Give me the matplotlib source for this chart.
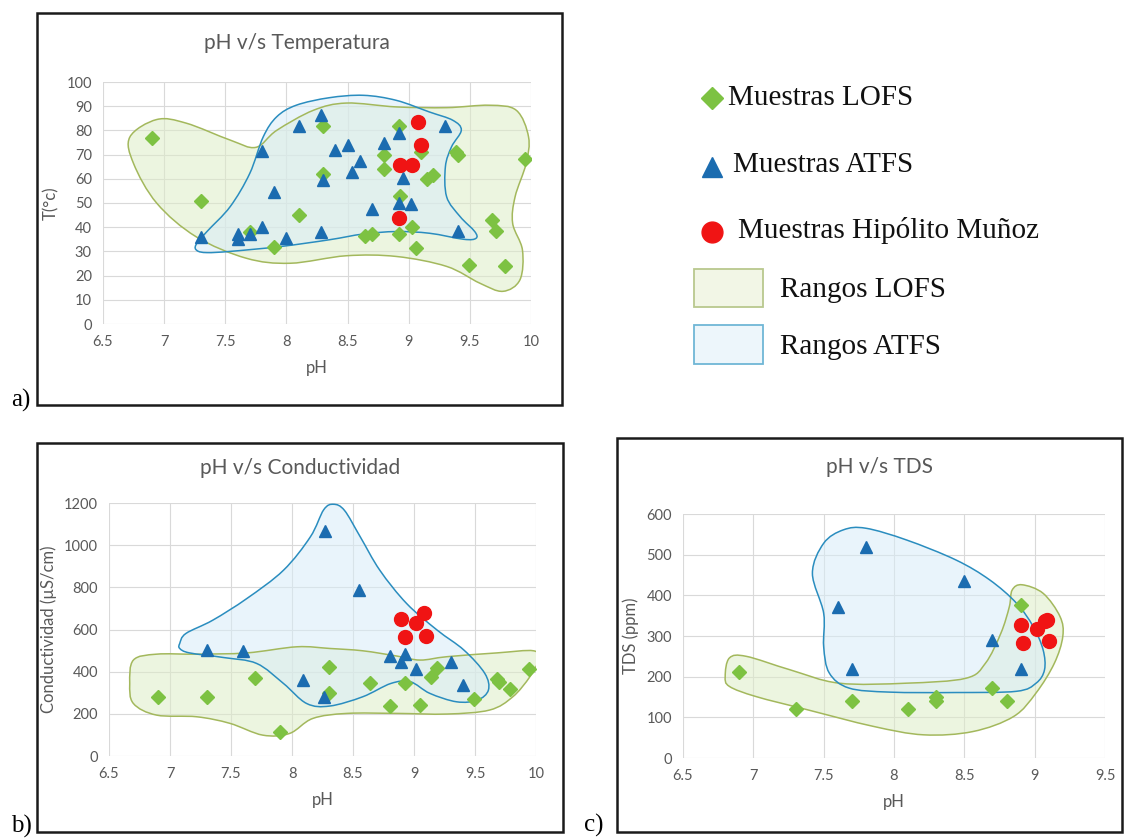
import matplotlib
matplotlib.use("Agg")
import matplotlib.pyplot as plt
from matplotlib.path import Path
from matplotlib.patches import PathPatch, Rectangle

# ---- data: pH v/s Temperatura ----
a_lofs_ph = [6.9, 7.3, 7.7, 7.9, 8.1, 8.3, 8.3, 8.64, 8.7, 8.8, 8.8, 8.92, 8.92, 8.93,
             9.03, 9.06, 9.1, 9.15, 9.2, 9.39, 9.4, 9.49, 9.68, 9.71, 9.79, 9.95]
a_lofs_t = [77, 51, 38, 32, 45, 82, 62, 36.5, 37, 70, 64, 82, 37, 53,
            40, 31.5, 71, 60, 61.5, 71, 70, 24.5, 43, 38.6, 24, 68]
a_atfs_ph = [7.3, 7.6, 7.6, 7.7, 7.8, 7.8, 7.9, 8.0, 8.1, 8.28, 8.28, 8.3, 8.4, 8.5,
             8.54, 8.6, 8.7, 8.8, 8.92, 8.92, 8.95, 9.02, 9.3, 9.4]
a_atfs_t = [36, 37, 35, 37, 71.5, 40, 54.5, 35.5, 82, 86.5, 38, 59.5, 72, 74,
            63, 67.5, 47.5, 75, 79, 50, 60.5, 49.5, 82, 38.5]
a_hm_ph = [9.08, 9.1, 8.93, 9.03, 8.92]
a_hm_t = [83.5, 74, 65.5, 65.5, 44]

a_lofs_zone_ph = [6.72, 6.94, 7.18, 7.54, 7.75, 7.92, 8.22, 8.49, 8.9, 9.31, 9.66, 9.88, 9.98,
                  9.96, 9.87, 9.85, 9.93, 9.91, 9.77, 9.58, 9.31, 8.9, 8.49, 8.03, 7.67,
                  7.26, 6.94, 6.75]
a_lofs_zone_t = [77.3, 84.5, 83, 76, 73, 80, 88.3, 91.3, 89.7, 89.4, 90.4, 88.3, 77.3,
                 66.3, 52.6, 41.6, 30.6, 18.3, 13.5, 16.9, 23.8, 27.9, 28.2, 25.1, 27.2,
                 36.1, 49.9, 66.3]
a_atfs_zone_ph = [7.26, 7.35, 7.54, 7.70, 7.81, 7.92, 8.08, 8.35, 8.63, 8.90, 9.17, 9.36,
                  9.43, 9.35, 9.30, 9.31, 9.42, 9.54, 9.55, 9.45, 9.17, 8.90, 8.63, 8.35,
                  7.95, 7.54, 7.35, 7.27]
a_atfs_zone_t = [32.7, 38.2, 48.5, 62.2, 77.3, 85.6, 90.4, 93.5, 94.5, 92.4, 87.6, 84.2,
                 80.1, 73.2, 65, 52.6, 44.4, 38.2, 35.4, 35, 37.5, 38.2, 37.2, 34.8,
                 32, 30, 29.5, 30.3]

# ---- data: pH v/s Conductividad ----
b_lofs_ph = [6.9, 7.3, 7.7, 7.9, 8.3, 8.3, 8.64, 8.8, 8.93, 9.05, 9.14, 9.19, 9.49,
             9.68, 9.7, 9.79, 9.94]
b_lofs_c = [281, 281, 371, 115, 420, 297, 347, 237, 344, 240, 373, 418, 268,
            363, 350, 316, 415]
b_atfs_ph = [7.3, 7.6, 8.09, 8.27, 8.26, 8.55, 8.8, 8.89, 8.93, 9.02, 9.3, 9.4]
b_atfs_c = [502, 499, 360, 1067, 281, 786, 474, 444, 483, 415, 447, 336]
b_hm_ph = [8.89, 8.93, 9.02, 9.08, 9.1]
b_hm_c = [652, 565, 633, 676, 570]

b_lofs_zone_ph = [6.67, 6.70, 6.89, 7.22, 7.63, 8.04, 8.31, 8.58, 8.86, 9.05, 9.27, 9.68,
                  9.98, 10.02, 9.95, 9.81, 9.62, 9.27, 8.86, 8.45, 8.17, 7.98, 7.76,
                  7.49, 7.22, 6.89, 6.70]
b_lofs_zone_c = [344, 455, 483, 483, 489, 518, 510, 499, 474, 455, 471, 489,
                 499, 455, 376, 281, 218, 199, 202, 202, 178, 107, 99,
                 155, 186, 194, 249]
b_atfs_zone_ph = [7.08, 7.13, 7.35, 7.63, 7.93, 8.15, 8.26, 8.34, 8.43, 8.56, 8.72, 8.94,
                  9.19, 9.41, 9.58, 9.61, 9.52, 9.35, 9.13, 8.97, 8.81, 8.58, 8.31, 8.12,
                  7.93, 7.71, 7.44, 7.16, 7.08]
b_atfs_zone_c = [534, 581, 644, 747, 881, 1039, 1168, 1194, 1165, 1039, 881, 723,
                 597, 502, 392, 313, 265, 257, 297, 352, 344, 281, 237, 249,
                 344, 439, 467, 489, 510]

# ---- data: pH v/s TDS ----
c_lofs_ph = [6.9, 7.3, 7.7, 8.1, 8.3, 8.3, 8.7, 8.8, 8.9]
c_lofs_tds = [211, 120, 141, 120, 151, 141, 171, 141, 377]
c_atfs_ph = [7.6, 7.8, 7.7, 8.5, 8.7, 8.9]
c_atfs_tds = [371, 520, 219, 436, 291, 219]
c_hm_ph = [8.9, 8.92, 9.02, 9.07, 9.09, 9.1]
c_hm_tds = [326, 284, 318, 338, 340, 287]

c_lofs_zone_ph = [6.80, 6.83, 6.95, 7.26, 7.61, 8.09, 8.51, 8.65, 8.76, 8.82, 8.84, 8.91,
                  9.06, 9.18, 9.20, 9.14, 9.01, 8.85, 8.56, 8.21, 7.85, 7.38, 7.02, 6.83]
c_lofs_zone_tds = [201, 246, 250, 217, 184, 184, 196, 233, 307, 372, 413, 426,
                   405, 348, 299, 233, 160, 102, 65, 57, 78, 119, 151, 176]
c_atfs_zone_ph = [7.50, 7.42, 7.50, 7.64, 7.80, 8.09, 8.44, 8.68, 8.87, 8.99, 9.06, 9.07,
                  9.01, 8.87, 8.44, 7.97, 7.68, 7.54, 7.50]
c_atfs_zone_tds = [356, 454, 528, 561, 565, 536, 487, 438, 381, 323, 266, 217,
                   184, 164, 161, 162, 172, 209, 274]

GREEN = "#7DC242"
BLUE = "#1B6CB0"
RED = "#F01414"
GRAY = "#595959"
SANS = ["Lato", "DejaVu Sans"]
SERIF = ["Liberation Serif", "DejaVu Serif"]


def smooth_zone(xs, ys):
    # closed Catmull-Rom outline through the traced points, drawn as cubic Beziers
    pts = list(zip(xs, ys))
    n = len(pts)
    verts = [pts[0]]
    codes = [Path.MOVETO]
    for i in range(n):
        p0, p1, p2, p3 = pts[i - 1], pts[i], pts[(i + 1) % n], pts[(i + 2) % n]
        c1 = (p1[0] + (p2[0] - p0[0]) / 6, p1[1] + (p2[1] - p0[1]) / 6)
        c2 = (p2[0] - (p3[0] - p1[0]) / 6, p2[1] - (p3[1] - p1[1]) / 6)
        verts += [c1, c2, p2]
        codes += [Path.CURVE4] * 3
    return Path(verts, codes)


def panel(ax, lofs, atfs, hm, lzone, azone, ylim, ystep, xmax, ylabel):
    ax.add_patch(PathPatch(smooth_zone(*lzone), facecolor="#DDEDC8", alpha=0.55,
                           edgecolor="none", zorder=1))
    ax.add_patch(PathPatch(smooth_zone(*azone), facecolor="#D8ECF8", alpha=0.55,
                           edgecolor="none", zorder=1.1))
    ax.add_patch(PathPatch(smooth_zone(*lzone), facecolor="none", edgecolor="#A3B85C",
                           lw=1.1, zorder=1.2))
    ax.add_patch(PathPatch(smooth_zone(*azone), facecolor="none", edgecolor="#2A8DBF",
                           lw=1.1, zorder=1.3))
    ax.plot(*lofs, "D", color=GREEN, ms=7.5, ls="none", zorder=3)
    ax.plot(*atfs, "^", color=BLUE, ms=9, ls="none", zorder=3)
    ax.plot(*hm, "o", color=RED, ms=10, ls="none", zorder=4)
    ax.set_xlim(6.5, xmax)
    ax.set_ylim(0, ylim)
    xt = [6.5 + 0.5 * i for i in range(int((xmax - 6.5) / 0.5) + 1)]
    ax.set_xticks(xt)
    ax.set_xticklabels([f"{v:g}" for v in xt])
    ax.set_yticks(range(0, ylim + 1, ystep))
    ax.grid(True, color="#D9D9D9", lw=0.8, zorder=0)
    ax.set_axisbelow(True)
    for s in ax.spines.values():
        s.set_visible(False)
    ax.tick_params(length=0, labelsize=10.5, labelcolor=GRAY, pad=8)
    for lab in ax.get_xticklabels() + ax.get_yticklabels():
        lab.set_family(SANS)
    ax.set_xlabel("pH", color=GRAY, fontsize=12, family=SANS, labelpad=8)
    ax.set_ylabel(ylabel, color=GRAY, fontsize=12, family=SANS, labelpad=5)


W, H = 1127, 840
fig = plt.figure(figsize=(W / 100, H / 100), dpi=100)
fig.patch.set_facecolor("white")


def px_axes(x0, y0, x1, y1):
    return fig.add_axes([x0 / W, 1 - y1 / H, (x1 - x0) / W, (y1 - y0) / H])


ax_a = px_axes(103, 82, 531, 324)
ax_b = px_axes(109, 503, 536, 756)
ax_c = px_axes(683, 514, 1105, 758)

panel(ax_a, (a_lofs_ph, a_lofs_t), (a_atfs_ph, a_atfs_t), (a_hm_ph, a_hm_t),
      (a_lofs_zone_ph, a_lofs_zone_t), (a_atfs_zone_ph, a_atfs_zone_t), 100, 10, 10, "T(°c)")
panel(ax_b, (b_lofs_ph, b_lofs_c), (b_atfs_ph, b_atfs_c), (b_hm_ph, b_hm_c),
      (b_lofs_zone_ph, b_lofs_zone_c), (b_atfs_zone_ph, b_atfs_zone_c), 1200, 200, 10,
      "Conductividad (µS/cm)")
panel(ax_c, (c_lofs_ph, c_lofs_tds), (c_atfs_ph, c_atfs_tds), (c_hm_ph, c_hm_tds),
      (c_lofs_zone_ph, c_lofs_zone_tds), (c_atfs_zone_ph, c_atfs_zone_tds), 600, 100, 9.5,
      "TDS (ppm)")

# overlay axes in pixel coordinates for frames, titles, labels and legend
ov = fig.add_axes([0, 0, 1, 1], zorder=-1)
ov.set_xlim(0, W)
ov.set_ylim(H, 0)
ov.axis("off")
top = fig.add_axes([0, 0, 1, 1], zorder=5)
top.set_xlim(0, W)
top.set_ylim(H, 0)
top.axis("off")
top.patch.set_alpha(0)

for (x0, y0, x1, y1) in [(37, 13, 562, 405), (37, 443, 563, 832), (617, 438, 1122, 832)]:
    ov.add_patch(Rectangle((x0, y0), x1 - x0, y1 - y0, fill=False, ec="#1A1A1A", lw=1.8))

for (x, y, t) in [(297, 43, "pH v/s Temperatura"), (300, 468, "pH v/s Conductividad"),
                  (880, 467, "pH v/s TDS")]:
    top.text(x, y, t, ha="center", va="center", fontsize=15, color=GRAY, family=SANS)

for (x, y, t) in [(21, 400, "a)"), (21, 826, "b)"), (594, 825, "c)")]:
    top.text(x, y, t, ha="center", va="center", fontsize=18, color="black", family=SERIF)

# legend
top.plot([712], [98], "D", color=GREEN, ms=11)
top.plot([712], [167], "^", color=BLUE, ms=15)
top.plot([712], [232], "o", color=RED, ms=15)
top.add_patch(Rectangle((694, 269), 69, 38, fc="#F2F6E6", ec="#B9C88E", lw=1.3))
top.add_patch(Rectangle((694, 325), 69, 39, fc="#EDF6FB", ec="#6FB6D6", lw=1.3))
for (x, y, t) in [(728, 98, "Muestras LOFS"), (733, 165, "Muestras ATFS"),
                  (738, 230, "Muestras Hipólito Muñoz"), (780, 290, "Rangos LOFS"),
                  (780, 347, "Rangos ATFS")]:
    top.text(x, y, t, ha="left", va="center", fontsize=21, color="#111111", family=SERIF)

fig.savefig("out.png", dpi=100)
